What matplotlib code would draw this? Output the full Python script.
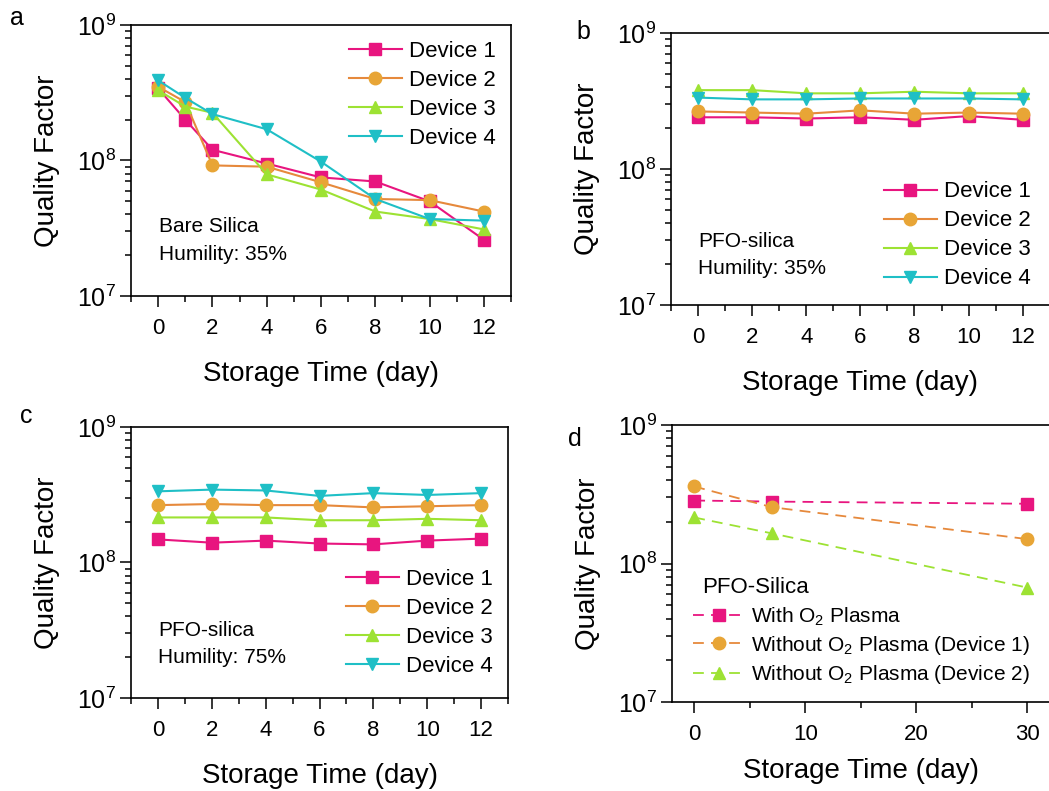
import numpy as np
import matplotlib
matplotlib.use('Agg')
from matplotlib import pyplot as plt
from matplotlib.ticker import LogLocator, FixedLocator, NullFormatter

plt.rcParams['font.family'] = ['Liberation Sans', 'DejaVu Sans']
plt.rcParams['mathtext.default'] = 'regular'

# colours per device
pink = '#E8157F'
orange_line = '#E6893C'
orange_fill = '#E8A536'
green = '#9DE233'
cyan = '#1FBFC6'

# panel a: bare silica, humidity 35%
days_a = [0, 1, 2, 4, 6, 8, 10, 12]
a_dev1 = [3.4e8, 2.0e8, 1.2e8, 9.5e7, 7.5e7, 7.0e7, 5.0e7, 2.6e7]
a_dev2 = [3.5e8, 2.7e8, 9.2e7, 9.0e7, 6.9e7, 5.2e7, 5.1e7, 4.2e7]
a_dev3 = [3.3e8, 2.5e8, 2.25e8, 7.9e7, 6.1e7, 4.2e7, 3.7e7, 3.1e7]
a_dev4 = [3.9e8, 2.9e8, 2.2e8, 1.7e8, 9.8e7, 5.2e7, 3.7e7, 3.6e7]

# panel b: PFO-silica, humidity 35%
days_b = [0, 2, 4, 6, 8, 10, 12]
b_dev1 = [2.4e8, 2.4e8, 2.35e8, 2.4e8, 2.3e8, 2.45e8, 2.3e8]
b_dev2 = [2.65e8, 2.6e8, 2.55e8, 2.7e8, 2.55e8, 2.6e8, 2.55e8]
b_dev3 = [3.8e8, 3.8e8, 3.6e8, 3.6e8, 3.7e8, 3.6e8, 3.6e8]
b_dev4 = [3.35e8, 3.25e8, 3.25e8, 3.3e8, 3.3e8, 3.3e8, 3.25e8]

# panel c: PFO-silica, humidity 75%
days_c = [0, 2, 4, 6, 8, 10, 12]
c_dev1 = [1.48e8, 1.4e8, 1.45e8, 1.38e8, 1.36e8, 1.45e8, 1.5e8]
c_dev2 = [2.65e8, 2.7e8, 2.65e8, 2.65e8, 2.55e8, 2.6e8, 2.65e8]
c_dev3 = [2.15e8, 2.15e8, 2.15e8, 2.05e8, 2.05e8, 2.1e8, 2.05e8]
c_dev4 = [3.35e8, 3.45e8, 3.4e8, 3.1e8, 3.25e8, 3.15e8, 3.25e8]

# panel d: with / without O2 plasma
days_d = [0, 7, 30]
d_with = [2.85e8, 2.8e8, 2.7e8]
d_wo1 = [3.6e8, 2.55e8, 1.5e8]
d_wo2 = [2.15e8, 1.65e8, 6.7e7]

dev_labels = ['Device 1', 'Device 2', 'Device 3', 'Device 4']
d_labels = ['With O$_2$ Plasma', 'Without O$_2$ Plasma (Device 1)',
            'Without O$_2$ Plasma (Device 2)']

styles = [dict(color=pink, marker='s', mfc=pink, mec=pink),
          dict(color=orange_line, marker='o', mfc=orange_fill, mec=orange_fill),
          dict(color=green, marker='^', mfc=green, mec=green),
          dict(color=cyan, marker='v', mfc=cyan, mec=cyan)]

fig = plt.figure(figsize=(10.49, 7.91), dpi=100)
ax_a = fig.add_axes([0.1249, 0.6258, 0.3622, 0.3426])
ax_b = fig.add_axes([0.6397, 0.6144, 0.3610, 0.3439])
ax_c = fig.add_axes([0.1249, 0.1176, 0.3594, 0.3426])
ax_d = fig.add_axes([0.6406, 0.1125, 0.3600, 0.3502])


def style_axes(ax, xlim, major, minor, xpad=16):
    ax.set_yscale('log')
    ax.set_ylim(1e7, 1e9)
    ax.set_xlim(*xlim)
    ax.xaxis.set_major_locator(FixedLocator(major))
    ax.xaxis.set_minor_locator(FixedLocator(minor))
    ax.yaxis.set_minor_locator(LogLocator(base=10, subs=np.arange(2, 10)))
    ax.yaxis.set_minor_formatter(NullFormatter())
    ax.tick_params(which='both', direction='out', width=1.1,
                   top=False, right=False)
    ax.tick_params(axis='x', labelsize=16, pad=8)
    ax.tick_params(axis='y', labelsize=18, pad=3)
    ax.tick_params(which='major', length=8)
    ax.tick_params(which='minor', length=4.5)
    for s in ax.spines.values():
        s.set_linewidth(1.2)
    ax.set_xlabel('Storage Time (day)', fontsize=20, labelpad=xpad)
    ax.set_ylabel('Quality Factor', fontsize=20, labelpad=12)


def device_panel(ax, days, series):
    for ys, st, lab in zip(series, styles, dev_labels):
        ax.plot(days, ys, lw=1.5, ms=9, label=lab, **st)
    style_axes(ax, (-1, 13), range(0, 13, 2), range(-1, 14, 2))


device_panel(ax_a, days_a, [a_dev1, a_dev2, a_dev3, a_dev4])
device_panel(ax_b, days_b, [b_dev1, b_dev2, b_dev3, b_dev4])
device_panel(ax_c, days_c, [c_dev1, c_dev2, c_dev3, c_dev4])

leg_kw = dict(frameon=False, fontsize=16, handlelength=2.4, handletextpad=0.3,
              labelspacing=0.36, borderaxespad=0.3)
ax_a.legend(loc='upper right', bbox_to_anchor=(1.0, 1.0), **leg_kw)
ax_b.legend(loc='lower right', bbox_to_anchor=(0.99, 0.0), **leg_kw)
ax_c.legend(loc='lower right', bbox_to_anchor=(1.0, 0.02), **leg_kw)

ax_a.text(0.074, 0.29, 'Bare Silica\nHumility: 35%', transform=ax_a.transAxes,
          fontsize=15, va='top', ha='left', linespacing=1.55)
ax_b.text(0.071, 0.27, 'PFO-silica\nHumility: 35%', transform=ax_b.transAxes,
          fontsize=15, va='top', ha='left', linespacing=1.55)
ax_c.text(0.072, 0.285, 'PFO-silica\nHumility: 75%', transform=ax_c.transAxes,
          fontsize=15, va='top', ha='left', linespacing=1.55)

for ys, st, lab in zip([d_with, d_wo1, d_wo2], styles[:3], d_labels):
    ax_d.plot(days_d, ys, lw=1.3, ms=9, ls=(0, (6, 4)), label=lab, **st)
style_axes(ax_d, (-2, 32), [0, 10, 20, 30], [5, 15, 25], xpad=9)
ax_d.legend(loc='lower left', frameon=False, fontsize=15, handlelength=2.5,
            handletextpad=0.3, labelspacing=0.3, bbox_to_anchor=(0.005, -0.01))
ax_d.text(0.08, 0.45, 'PFO-Silica', transform=ax_d.transAxes, fontsize=16,
          va='top', ha='left')

for lab, x, y in [('a', 0.010, 0.992), ('b', 0.550, 0.975),
                  ('c', 0.019, 0.489), ('d', 0.541, 0.460)]:
    fig.text(x, y, lab, fontsize=18, va='top', ha='left')

fig.savefig('out.png', dpi=100)
